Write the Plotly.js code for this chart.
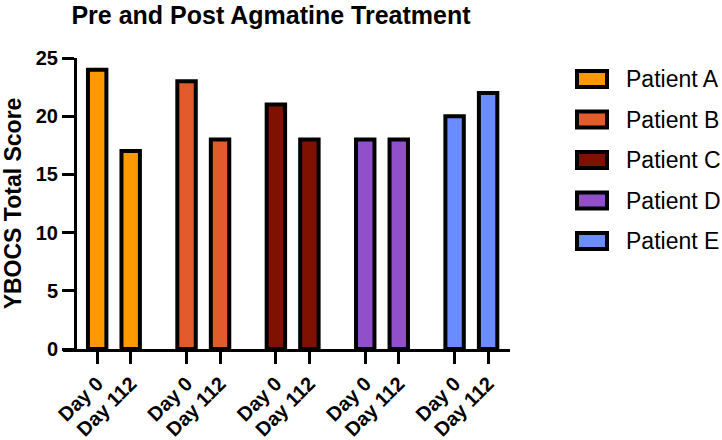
<!DOCTYPE html>
<html>
<head>
<meta charset="utf-8">
<script src="https://cdn.plot.ly/plotly-3.0.1.min.js"></script>
<style>html,body{margin:0;padding:0;background:#fff}#chart{width:722px;height:440px}</style>
</head>
<body>
<div id="chart"></div>
<script>
// ---- data ----
var patients = ["Patient A", "Patient B", "Patient C", "Patient D", "Patient E"];
var days = ["Day 0", "Day 112"];
var day0Scores = [24, 23, 21, 18, 20];
var day112Scores = [17, 18, 18, 18, 22];
var colors = ["#FF9900", "#E15B2C", "#7F1100", "#914FCA", "#6A8CFF"];

// ---- layout geometry (pixels) ----
var W = 722, H = 440;
var mL = 63, mR = 212, mT = 58, mB = 91;
var plotW = W - mL - mR, plotH = H - mT - mB;
function pxX(p) { return (p - mL) / plotW; }
function pxY(p) { return (H - mB - p) / plotH; }

var groupStep = 8 / 3;
var FONT = "Liberation Sans, Arial, Helvetica, sans-serif";

var traces = [];
var tickvals = [], ticktext = [];
patients.forEach(function (name, g) {
  var xs = [g * groupStep, g * groupStep + 1];
  tickvals.push(xs[0], xs[1]);
  ticktext.push(days[0], days[1]);
  traces.push({
    type: "bar",
    name: name,
    x: xs,
    y: [day0Scores[g], day112Scores[g]],
    width: 0.55,
    marker: { color: colors[g], line: { color: "#000", width: 4 } },
    showlegend: false,
    hoverinfo: "skip"
  });
});

// manual legend (large swatches)
var shapes = [], annotations = [];
patients.forEach(function (name, i) {
  var cy = 79 + i * 40.5;
  shapes.push({
    type: "rect", xref: "paper", yref: "paper",
    x0: pxX(577), x1: pxX(607), y0: pxY(cy + 8), y1: pxY(cy - 8),
    fillcolor: colors[i], line: { color: "#000", width: 4 }
  });
  annotations.push({
    xref: "paper", yref: "paper", x: pxX(624), y: pxY(cy),
    xanchor: "left", yanchor: "middle", showarrow: false,
    text: name, font: { family: FONT, size: 23, color: "#000" }
  });
});

var layout = {
  width: W, height: H,
  margin: { l: mL, r: mR, t: mT, b: mB, pad: 0 },
  paper_bgcolor: "#fff", plot_bgcolor: "#fff",
  barmode: "overlay",
  showlegend: false,
  font: { family: FONT, color: "#000" },
  title: {
    text: "Pre and Post Agmatine Treatment",
    font: { family: FONT, size: 25, weight: 700, color: "#000" },
    x: 271 / W, xanchor: "center", xref: "container",
    y: 1 - 15 / H, yanchor: "middle", yref: "container"
  },
  xaxis: {
    range: [-1.02, 12.32],
    tickmode: "array", tickvals: tickvals, ticktext: ticktext,
    tickangle: -45,
    tickfont: { family: FONT, size: 20, weight: 700, color: "#000" },
    ticks: "outside", ticklen: 12, tickwidth: 3, tickcolor: "#000",
    showline: true, linewidth: 3, linecolor: "#000",
    showgrid: false, zeroline: false, fixedrange: true
  },
  yaxis: {
    range: [0, 25],
    anchor: "free", position: pxX(75),
    tickvals: [0, 5, 10, 15, 20, 25],
    tickfont: { family: FONT, size: 20, weight: 700, color: "#000" },
    ticks: "outside", ticklen: 12, tickwidth: 3, tickcolor: "#000",
    showline: true, linewidth: 3, linecolor: "#000",
    showgrid: false, zeroline: false, fixedrange: true,
    title: {
      text: "YBOCS Total Score",
      font: { family: FONT, size: 23, weight: 700, color: "#000" },
      standoff: 8
    }
  },
  shapes: shapes,
  annotations: annotations
};

Plotly.newPlot("chart", traces, layout, { displayModeBar: false, staticPlot: true });
</script>
</body>
</html>
